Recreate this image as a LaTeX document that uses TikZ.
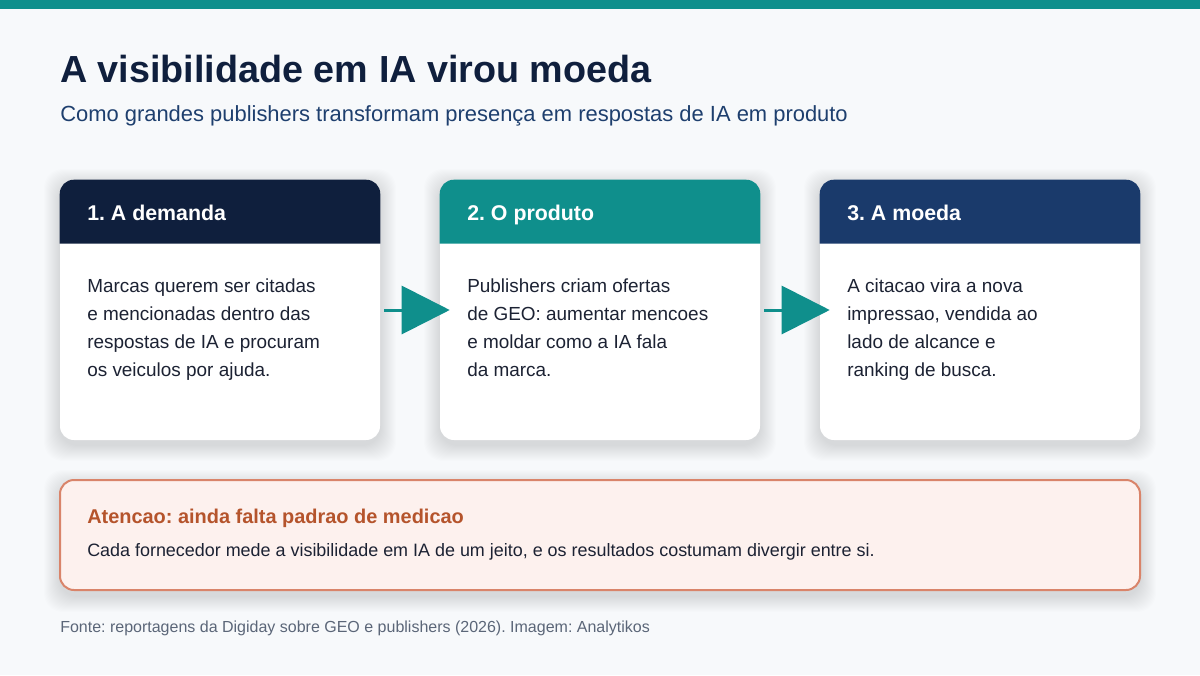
\documentclass[tikz,border=0pt]{standalone}
\usepackage{fontspec}
\setmainfont{Liberation Sans}
\usetikzlibrary{arrows.meta,calc}
\definecolor{bgc}{HTML}{F7F9FB}
\definecolor{tealc}{HTML}{0F8F8C}
\definecolor{navyc}{HTML}{0F1F3D}
\definecolor{bluec}{HTML}{1A3A6B}
\definecolor{subc}{HTML}{1E3F6E}
\definecolor{bodyc}{HTML}{1C2233}
\definecolor{warnfill}{HTML}{FDF1EE}
\definecolor{warnline}{HTML}{D9846A}
\definecolor{warntext}{HTML}{B5542C}
\definecolor{footc}{HTML}{5B6678}
\definecolor{shadc}{HTML}{1E2A44}
\frenchspacing
\begin{document}
\begin{tikzpicture}[x=0.75pt,y=-0.75pt,
  card/.style={fill=white, rounded corners=10.5pt, minimum width=240pt, minimum height=195pt, inner sep=0pt},
  warnbox/.style={fill=warnfill, draw=warnline, line width=1.5pt, rounded corners=10.5pt, minimum width=810pt, minimum height=82.5pt, inner sep=0pt},
  softshadow/.style={fill=shadc, opacity=0.0065, rounded corners=14pt},
  hdr/.style={anchor=base west, inner sep=0pt, text=white, font=\fontsize{16pt}{19pt}\selectfont\bfseries},
  body/.style={anchor=base west, inner sep=0pt, align=left, text=bodyc, font=\fontsize{14.2pt}{21pt}\selectfont},
  arr/.style={draw=tealc, line width=2.25pt, -{Triangle[length=36pt,width=36pt]}, shorten <=3pt, shorten >=-7.5pt}
]
\fill[bgc] (0,0) rectangle (1200,675);
\fill[tealc] (0,0) rectangle (1200,9);
\useasboundingbox (0,0) rectangle (1200,675);

\node[anchor=base west, inner sep=0pt, text=navyc, font=\fontsize{28.3pt}{34pt}\selectfont\bfseries] (title) at (60,82) {A visibilidade em IA virou moeda};
\node[anchor=base west, inner sep=0pt, text=subc, font=\fontsize{16.45pt}{20pt}\selectfont] (sub) at (60,121) {Como grandes publishers transformam presença em respostas de IA em produto};

% soft shadows
\foreach \x in {60,440,820} {
  \foreach \i in {1,...,16} {
    \fill[softshadow] (\x-\i,180-\i+5) rectangle (\x+320+\i,440+\i+5);
  }
}
\foreach \i in {1,...,16} {
  \fill[softshadow] (60-\i,480-\i+6) rectangle (1140+\i,590+\i+6);
}

% cards
\node[card] (c1) at (220,310) {};
\node[card] (c2) at (600,310) {};
\node[card] (c3) at (980,310) {};

\fill[navyc] ($(c1.north west)+(0,64)$) [rounded corners=10.5pt] -- (c1.north west) -- (c1.north east) [sharp corners] -- ($(c1.north east)+(0,64)$) -- cycle;
\fill[tealc] ($(c2.north west)+(0,64)$) [rounded corners=10.5pt] -- (c2.north west) -- (c2.north east) [sharp corners] -- ($(c2.north east)+(0,64)$) -- cycle;
\fill[bluec] ($(c3.north west)+(0,64)$) [rounded corners=10.5pt] -- (c3.north west) -- (c3.north east) [sharp corners] -- ($(c3.north east)+(0,64)$) -- cycle;

\node[hdr] (h1) at (87,220) {1. A demanda};
\node[hdr] (h2) at (467,220) {2. O produto};
\node[hdr] (h3) at (847,220) {3. A moeda};

\node[body] (b1) at (87,376) {Marcas querem ser citadas\\e mencionadas dentro das\\respostas de IA e procuram\\os veiculos por ajuda.};
\node[body] (b2) at (467,376) {Publishers criam ofertas\\de GEO: aumentar mencoes\\e moldar como a IA fala\\da marca.};
\node[body] (b3) at (847,376) {A citacao vira a nova\\impressao, vendida ao\\lado de alcance e\\ranking de busca.};

\draw[arr] (c1.east) -- (c2.west);
\draw[arr] (c2.east) -- (c3.west);

% warning
\node[warnbox] (warn) at (600,535) {};
\node[anchor=base west, inner sep=0pt, text=warntext, font=\fontsize{14.95pt}{18pt}\selectfont\bfseries] (wt) at (87,523) {Atencao: ainda falta padrao de medicao};
\node[anchor=base west, inner sep=0pt, text=bodyc, font=\fontsize{13.45pt}{16pt}\selectfont] (wb) at (87,556) {Cada fornecedor mede a visibilidade em IA de um jeito, e os resultados costumam divergir entre si.};

\node[anchor=base west, inner sep=0pt, text=footc, font=\fontsize{12pt}{14pt}\selectfont] (foot) at (60,632) {Fonte: reportagens da Digiday sobre GEO e publishers (2026). Imagem: Analytikos};
\end{tikzpicture}
\end{document}
